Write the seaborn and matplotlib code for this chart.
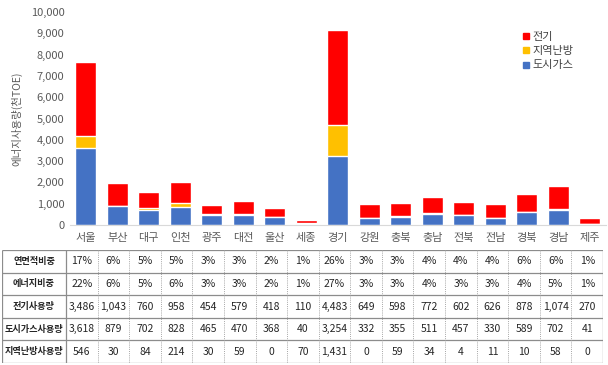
import matplotlib
matplotlib.use("Agg")
import matplotlib.pyplot as plt
from matplotlib.lines import Line2D
import seaborn as sns
import numpy as np
import pandas as pd

regions = ["서울", "부산", "대구", "인천", "광주", "대전", "울산", "세종", "경기",
           "강원", "충북", "충남", "전북", "전남", "경북", "경남", "제주"]
area_share = ["17%", "6%", "5%", "5%", "3%", "3%", "2%", "1%", "26%",
              "3%", "3%", "4%", "4%", "4%", "6%", "6%", "1%"]
energy_share = ["22%", "6%", "5%", "6%", "3%", "3%", "2%", "1%", "27%",
                "3%", "3%", "4%", "3%", "3%", "4%", "5%", "1%"]
electricity = [3486, 1043, 760, 958, 454, 579, 418, 110, 4483,
               649, 598, 772, 602, 626, 878, 1074, 270]
city_gas = [3618, 879, 702, 828, 465, 470, 368, 40, 3254,
            332, 355, 511, 457, 330, 589, 702, 41]
district_heat = [546, 30, 84, 214, 30, 59, 0, 70, 1431,
                 0, 59, 34, 4, 11, 10, 58, 0]
row_labels = ["연면적비중", "에너지비중", "전기사용량", "도시가스사용량", "지역난방사용량"]
series_names = ["전기", "지역난방", "도시가스"]

c_red, c_yel, c_blue = "#FF0000", "#FFC000", "#4472C4"

sns.set_theme(style="white")
plt.rcParams["font.family"] = ["Noto Sans CJK KR", "DejaVu Sans"]

df = pd.DataFrame({"region": regions, "elec": electricity,
                   "gas": city_gas, "heat": district_heat})
df["gas_heat"] = df["gas"] + df["heat"]
df["total"] = df["gas_heat"] + df["elec"]

fig = plt.figure(figsize=(6.08, 3.65), dpi=100)
ax = fig.add_axes([70 / 608, 1 - 225 / 365, (605.5 - 70) / 608, (225 - 12) / 365])

bw = 0.67
sns.barplot(data=df, x="region", y="total", color=c_red, saturation=1, width=bw, ax=ax)
sns.barplot(data=df, x="region", y="gas_heat", color=c_yel, saturation=1, width=bw, ax=ax)
sns.barplot(data=df, x="region", y="gas", color=c_blue, saturation=1, width=bw, ax=ax)

ax.set_xlim(-0.5, len(regions) - 0.5)
ax.set_ylim(0, 10000)
ax.set_yticks(np.arange(0, 10001, 1000))
ax.set_yticklabels([f"{v:,}" for v in range(0, 10001, 1000)])
ax.set_xlabel("")
ax.set_ylabel("에너지사용량(천TOE)", fontsize=7.5, color="#595959", labelpad=6)
ax.tick_params(axis="y", length=0, labelsize=8, labelcolor="#595959", pad=4)
ax.tick_params(axis="x", which="major", length=0, labelsize=8, labelcolor="#595959", pad=6)
ax.set_xticks(np.arange(-0.5, len(regions), 1.0), minor=True)
ax.tick_params(axis="x", which="minor", length=5, color="#d9d9d9", width=0.8)
for s in ["left", "right", "top"]:
    ax.spines[s].set_visible(False)
ax.spines["bottom"].set_color("#d9d9d9")
ax.spines["bottom"].set_linewidth(0.8)
ax.grid(False)

handles = [Line2D([], [], marker="s", linestyle="none", markersize=4.5,
                  markerfacecolor=c, markeredgecolor=c) for c in (c_red, c_yel, c_blue)]
fig.legend(handles, series_names, loc="upper left", bbox_to_anchor=(515 / 608, 1 - 26 / 365),
           frameon=False, fontsize=8, labelcolor="#404040", handletextpad=0.1,
           labelspacing=0.4, borderpad=0, handlelength=1.0)

# table
label_w = 64.0
total_w = 601.0
col_w = (total_w - label_w) / len(regions)
tax = fig.add_axes([2 / 608, 1 - 363 / 365, total_w / 608, 113 / 365])
tax.set_xlim(0, total_w)
tax.set_ylim(5, 0)
tax.axis("off")

rows = [area_share, energy_share,
        [f"{v:,}" for v in electricity],
        [f"{v:,}" for v in city_gas],
        [f"{v:,}" for v in district_heat]]

tax.hlines(np.arange(0, 6), 0, total_w, colors="#8c8c8c", linewidth=0.9)
tax.vlines([0, label_w, total_w], 0, 5, colors="#8c8c8c", linewidth=0.9)
tax.vlines([label_w + col_w * i for i in range(1, len(regions))], 0, 5,
           colors="#a6a6a6", linewidth=0.7, linestyles=(0, (1, 1.2)))

for r, (lab, vals) in enumerate(zip(row_labels, rows)):
    tax.text(label_w / 2, r + 0.5, lab, ha="center", va="center",
             fontsize=6.6, fontweight="bold", color="#262626")
    for i, v in enumerate(vals):
        tax.text(label_w + col_w * (i + 0.5), r + 0.5, v, ha="center", va="center",
                 fontsize=7.5, color="#262626")

fig.savefig("out.png", dpi=100)
